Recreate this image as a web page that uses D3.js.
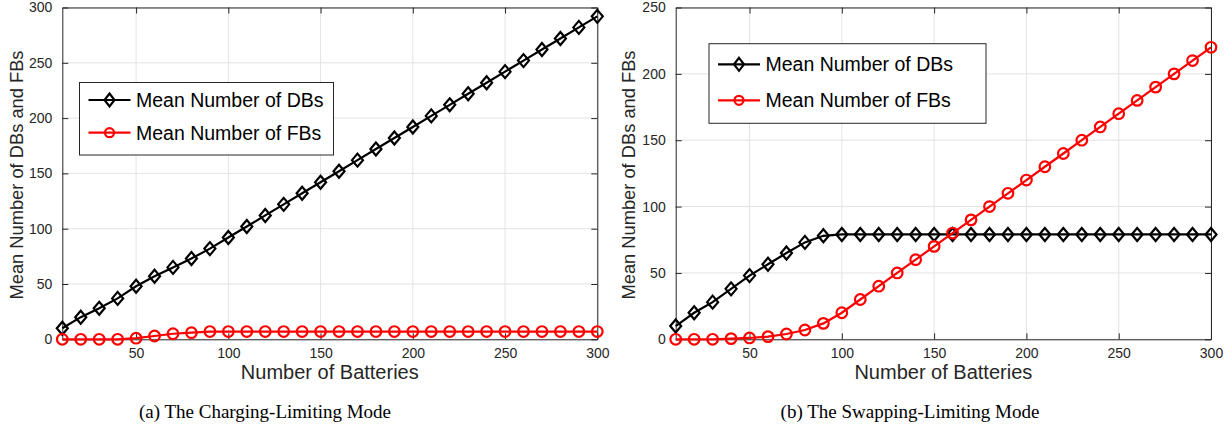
<!DOCTYPE html>
<html>
<head>
<meta charset="utf-8">
<script src="https://cdn.jsdelivr.net/npm/d3@7"></script>
<style>
  html, body { margin: 0; padding: 0; background: #fff; }
  svg { display: block; }
</style>
</head>
<body>
<svg id="fig" width="1232" height="440"></svg>
<script>
// Number of batteries in the station (x values, shared by both panels)
const batteries = [10, 20, 30, 40, 50, 60, 70, 80, 90, 100,
                   110, 120, 130, 140, 150, 160, 170, 180, 190, 200,
                   210, 220, 230, 240, 250, 260, 270, 280, 290, 300];

// (a) Charging-limiting mode
const chargingDBs = [10, 20, 28, 37, 48, 57, 65, 73, 82, 92,
                     102, 112, 122, 132, 142, 152, 162, 172, 182, 192,
                     202, 212, 222, 232, 242, 252, 262, 272, 282, 292];
const chargingFBs = [0, 0, 0, 0, 1, 3, 5, 6, 7, 7,
                     7, 7, 7, 7, 7, 7, 7, 7, 7, 7,
                     7, 7, 7, 7, 7, 7, 7, 7, 7, 7];

// (b) Swapping-limiting mode
const swappingDBs = [10, 20, 28, 38, 48, 56.5, 65, 73, 78, 79,
                     79, 79, 79, 79, 79, 79, 79, 79, 79, 79,
                     79, 79, 79, 79, 79, 79, 79, 79, 79, 79];
const swappingFBs = [0, 0, 0, 0.5, 1, 2, 4, 7, 12, 20,
                     30, 40, 50, 60, 70, 80, 90, 100, 110, 120,
                     130, 140, 150, 160, 170, 180, 190, 200, 210, 220];

const xTickValues = [50, 100, 150, 200, 250, 300];
const yTicksCharging = [0, 50, 100, 150, 200, 250, 300];
const yTicksSwapping = [0, 50, 100, 150, 200, 250];

const seriesNames = ["Mean Number of DBs", "Mean Number of FBs"];
const xTitle = "Number of Batteries";
const yTitle = "Mean Number of DBs and FBs";
const captions = ["(a) The Charging-Limiting Mode", "(b) The Swapping-Limiting Mode"];

const AXIS = "#262626";
const GRID = "#e3e3e3";
const SANS = "'Liberation Sans', Arial, Helvetica, sans-serif";
const SERIF = "'Liberation Serif', 'Times New Roman', serif";

const svg = d3.select("#fig");

function diamondPath(cx, cy, w, h) {
  return `M${cx},${cy - h / 2}L${cx + w / 2},${cy}L${cx},${cy + h / 2}L${cx - w / 2},${cy}Z`;
}

function drawPanel(opt) {
  const g = svg.append("g");
  const x = d3.scaleLinear().domain([10, 300]).range([opt.left, opt.right]);
  const y = d3.scaleLinear().domain([0, opt.yMax]).range([opt.bottom, opt.top]);

  // grid
  g.append("g").selectAll("line.gx").data(xTickValues).join("line")
    .attr("x1", d => x(d)).attr("x2", d => x(d))
    .attr("y1", opt.top).attr("y2", opt.bottom)
    .attr("stroke", GRID).attr("stroke-width", 1);
  g.append("g").selectAll("line.gy").data(opt.yTicks).join("line")
    .attr("y1", d => y(d)).attr("y2", d => y(d))
    .attr("x1", opt.left).attr("x2", opt.right)
    .attr("stroke", GRID).attr("stroke-width", 1);

  // axes (box with inward ticks on all sides)
  const bottomAxis = d3.axisBottom(x).tickValues(xTickValues).tickSizeInner(-6).tickSizeOuter(0).tickPadding(9);
  const topAxis = d3.axisTop(x).tickValues(xTickValues).tickSizeInner(-6).tickSizeOuter(0).tickFormat("");
  const leftAxis = d3.axisLeft(y).tickValues(opt.yTicks).tickSizeInner(-6).tickSizeOuter(0).tickPadding(10);
  const rightAxis = d3.axisRight(y).tickValues(opt.yTicks).tickSizeInner(-6).tickSizeOuter(0).tickFormat("");

  const axes = [
    [bottomAxis, `translate(0,${opt.bottom})`],
    [topAxis, `translate(0,${opt.top})`],
    [leftAxis, `translate(${opt.left},0)`],
    [rightAxis, `translate(${opt.right},0)`]
  ];
  axes.forEach(([ax, tr]) => {
    const a = g.append("g").attr("transform", tr).call(ax);
    a.select(".domain").attr("stroke", AXIS).attr("stroke-width", 1);
    a.selectAll(".tick line").attr("stroke", AXIS).attr("stroke-width", 1);
    a.selectAll(".tick text").attr("fill", AXIS)
      .attr("font-family", SANS).attr("font-size", 14);
  });

  // axis titles
  g.append("text")
    .attr("x", (opt.left + opt.right) / 2).attr("y", opt.bottom + 40)
    .attr("text-anchor", "middle").attr("fill", AXIS)
    .attr("font-family", SANS).attr("font-size", 20)
    .text(xTitle);
  g.append("text")
    .attr("transform", `translate(${opt.left - opt.yTitleGap},175) rotate(-90)`)
    .attr("text-anchor", "middle").attr("fill", AXIS)
    .attr("font-family", SANS).attr("font-size", 18.3)
    .text(yTitle);

  const line = d3.line().x(d => x(d[0])).y(d => y(d[1]));

  // DBs: black line with diamonds
  const dbs = batteries.map((b, i) => [b, opt.dbs[i]]);
  g.append("path").datum(dbs).attr("d", line)
    .attr("fill", "none").attr("stroke", "#000").attr("stroke-width", 2.2);
  g.append("g").selectAll("path").data(dbs).join("path")
    .attr("d", d => diamondPath(x(d[0]), y(d[1]), 11, 13))
    .attr("fill", "none").attr("stroke", "#000").attr("stroke-width", 2.2);

  // FBs: red line with circles
  const fbs = batteries.map((b, i) => [b, opt.fbs[i]]);
  g.append("path").datum(fbs).attr("d", line)
    .attr("fill", "none").attr("stroke", "#ff0000").attr("stroke-width", 2.2);
  g.append("g").selectAll("circle").data(fbs).join("circle")
    .attr("cx", d => x(d[0])).attr("cy", d => y(d[1])).attr("r", 5.3)
    .attr("fill", "none").attr("stroke", "#ff0000").attr("stroke-width", 2.2);

  // legend
  const L = opt.legend;
  const lg = g.append("g");
  lg.append("rect")
    .attr("x", L.x).attr("y", L.y).attr("width", L.w).attr("height", L.h)
    .attr("fill", "#fff").attr("stroke", AXIS).attr("stroke-width", 1);
  seriesNames.forEach((name, i) => {
    const cy = L.y + L.first + i * L.step;
    const x0 = L.x + 9, x1 = L.x + 51, xm = (x0 + x1) / 2;
    const col = i === 0 ? "#000" : "#ff0000";
    lg.append("line").attr("x1", x0).attr("x2", x1).attr("y1", cy).attr("y2", cy)
      .attr("stroke", col).attr("stroke-width", 2.2);
    if (i === 0) {
      lg.append("path").attr("d", diamondPath(xm, cy, 10, 13))
        .attr("fill", "none").attr("stroke", col).attr("stroke-width", 2.2);
    } else {
      lg.append("circle").attr("cx", xm).attr("cy", cy).attr("r", 4.5)
        .attr("fill", "none").attr("stroke", col).attr("stroke-width", 2.2);
    }
    lg.append("text").attr("x", L.x + 56.5).attr("y", cy).attr("dy", "0.36em")
      .attr("fill", "#000").attr("font-family", SANS).attr("font-size", 19.5)
      .text(name);
  });

  // caption
  svg.append("text")
    .attr("x", opt.captionX).attr("y", 418)
    .attr("text-anchor", "middle").attr("fill", "#000")
    .attr("font-family", SERIF).attr("font-size", 19)
    .text(opt.caption);
}

drawPanel({
  left: 62.3, right: 597.3, top: 7.5, bottom: 339.3,
  yMax: 300, yTicks: yTicksCharging, yTitleGap: 39.3,
  dbs: chargingDBs, fbs: chargingFBs,
  legend: { x: 79.5, y: 82.5, w: 254, h: 72.5, first: 17.5, step: 32.7 },
  caption: captions[0], captionX: 265
});

drawPanel({
  left: 675.7, right: 1211, top: 7.5, bottom: 339.3,
  yMax: 250, yTicks: yTicksSwapping, yTitleGap: 40.7,
  dbs: swappingDBs, fbs: swappingFBs,
  legend: { x: 709, y: 43.7, w: 277, h: 79.6, first: 20.6, step: 36 },
  caption: captions[1], captionX: 910
});
</script>
</body>
</html>
